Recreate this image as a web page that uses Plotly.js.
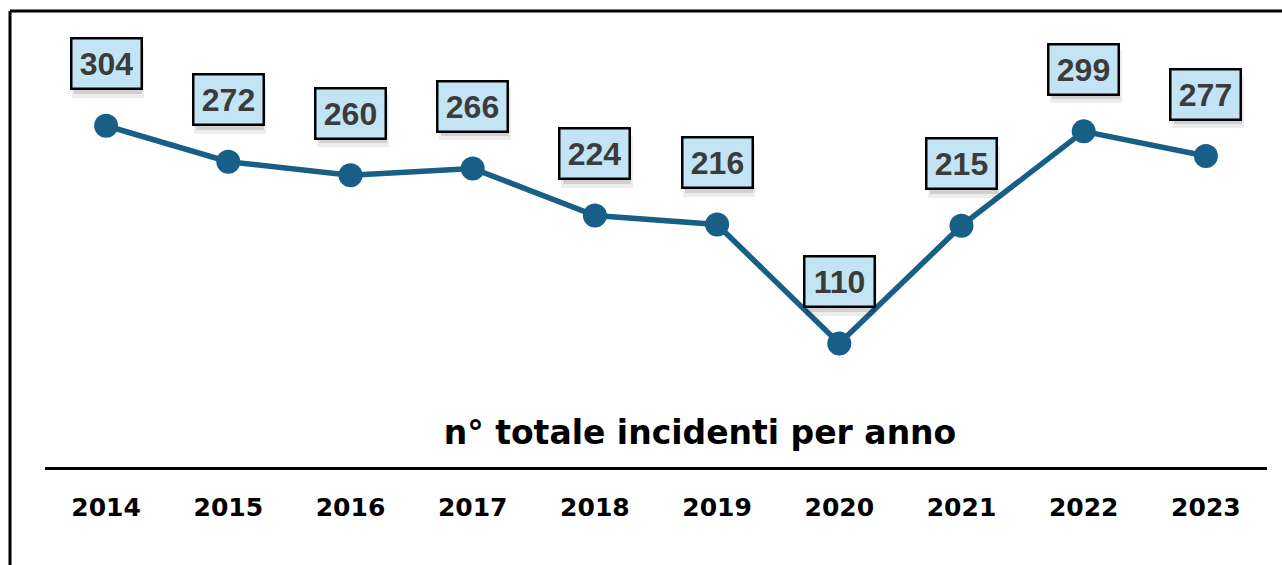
<!DOCTYPE html>
<html>
<head>
<meta charset="utf-8">
<script src="https://cdn.plot.ly/plotly-3.0.1.min.js"></script>
<style>html,body{margin:0;padding:0;background:#fff;}#chart{width:1282px;height:565px;}</style>
</head>
<body>
<div id="chart"></div>
<script>
const years = ["2014","2015","2016","2017","2018","2019","2020","2021","2022","2023"];
const incidents = [304, 272, 260, 266, 224, 216, 110, 215, 299, 277];
const chartTitle = "n° totale incidenti per anno";

const W = 1282, H = 565;
const M = {l: 45, r: 15, t: 18, b: 98};
const plotW = W - M.l - M.r, plotH = H - M.t - M.b;
const px2x = px => (px - M.l) / plotW;
const py2y = py => (H - M.b - py) / plotH;

const lineColor = "#175f86";

const annotations = [];
// soft drop shadows behind the label boxes
[[72, 52, 2, 54, 0.07], [68, 48, 2, 56, 0.12]].forEach(s => {
  years.forEach((yr, i) => {
    annotations.push({
      x: i, y: incidents[i], xref: "x", yref: "y",
      text: "&nbsp;", showarrow: false,
      font: {size: 10, color: "rgba(0,0,0,0)"},
      width: s[0], height: s[1], bgcolor: "rgba(0,0,0," + s[4] + ")",
      borderwidth: 0, borderpad: 0,
      xshift: s[2], yshift: s[3]
    });
  });
});
years.forEach((yr, i) => {
  annotations.push({
    x: i, y: incidents[i], xref: "x", yref: "y",
    text: "<b>" + incidents[i] + "</b>", showarrow: false,
    font: {family: "Liberation Sans, Arial, sans-serif", size: 32, color: "#3b3b3b"},
    width: 66, height: 46, bgcolor: "#c3e4f4",
    bordercolor: "#000000", borderwidth: 2.5, borderpad: 1,
    yshift: 62
  });
});

const shapes = [
  {type: "line", xref: "paper", yref: "paper", x0: px2x(10), x1: px2x(1282), y0: py2y(11), y1: py2y(11), line: {color: "#000", width: 3}},
  {type: "line", xref: "paper", yref: "paper", x0: px2x(10), x1: px2x(10), y0: py2y(11), y1: py2y(565), line: {color: "#000", width: 3}}
];

const trace = {
  x: years, y: incidents, type: "scatter", mode: "lines+markers",
  line: {color: lineColor, width: 5.5},
  marker: {color: lineColor, size: 24},
  hoverinfo: "x+y", cliponaxis: false
};

const layout = {
  width: W, height: H,
  margin: M,
  paper_bgcolor: "#fff", plot_bgcolor: "#fff",
  showlegend: false,
  title: {
    text: "<b>" + chartTitle + "</b>",
    font: {family: "DejaVu Sans, sans-serif", size: 33, color: "#000"},
    x: 700 / W, xanchor: "center", xref: "container",
    y: 1 - 432 / H, yanchor: "middle", yref: "container"
  },
  xaxis: {
    type: "category", range: [-0.5, 9.5],
    showline: true, linecolor: "#000", linewidth: 3,
    showgrid: false, zeroline: false, ticks: "",
    tickfont: {family: "DejaVu Sans, sans-serif", size: 25, color: "#000", weight: "bold"},
    ticklabelstandoff: 16
  },
  yaxis: {
    range: [0, 400], visible: false, showgrid: false, zeroline: false
  },
  annotations: annotations,
  shapes: shapes
};

Plotly.newPlot("chart", [trace], layout, {displayModeBar: false, staticPlot: true});
</script>
</body>
</html>
